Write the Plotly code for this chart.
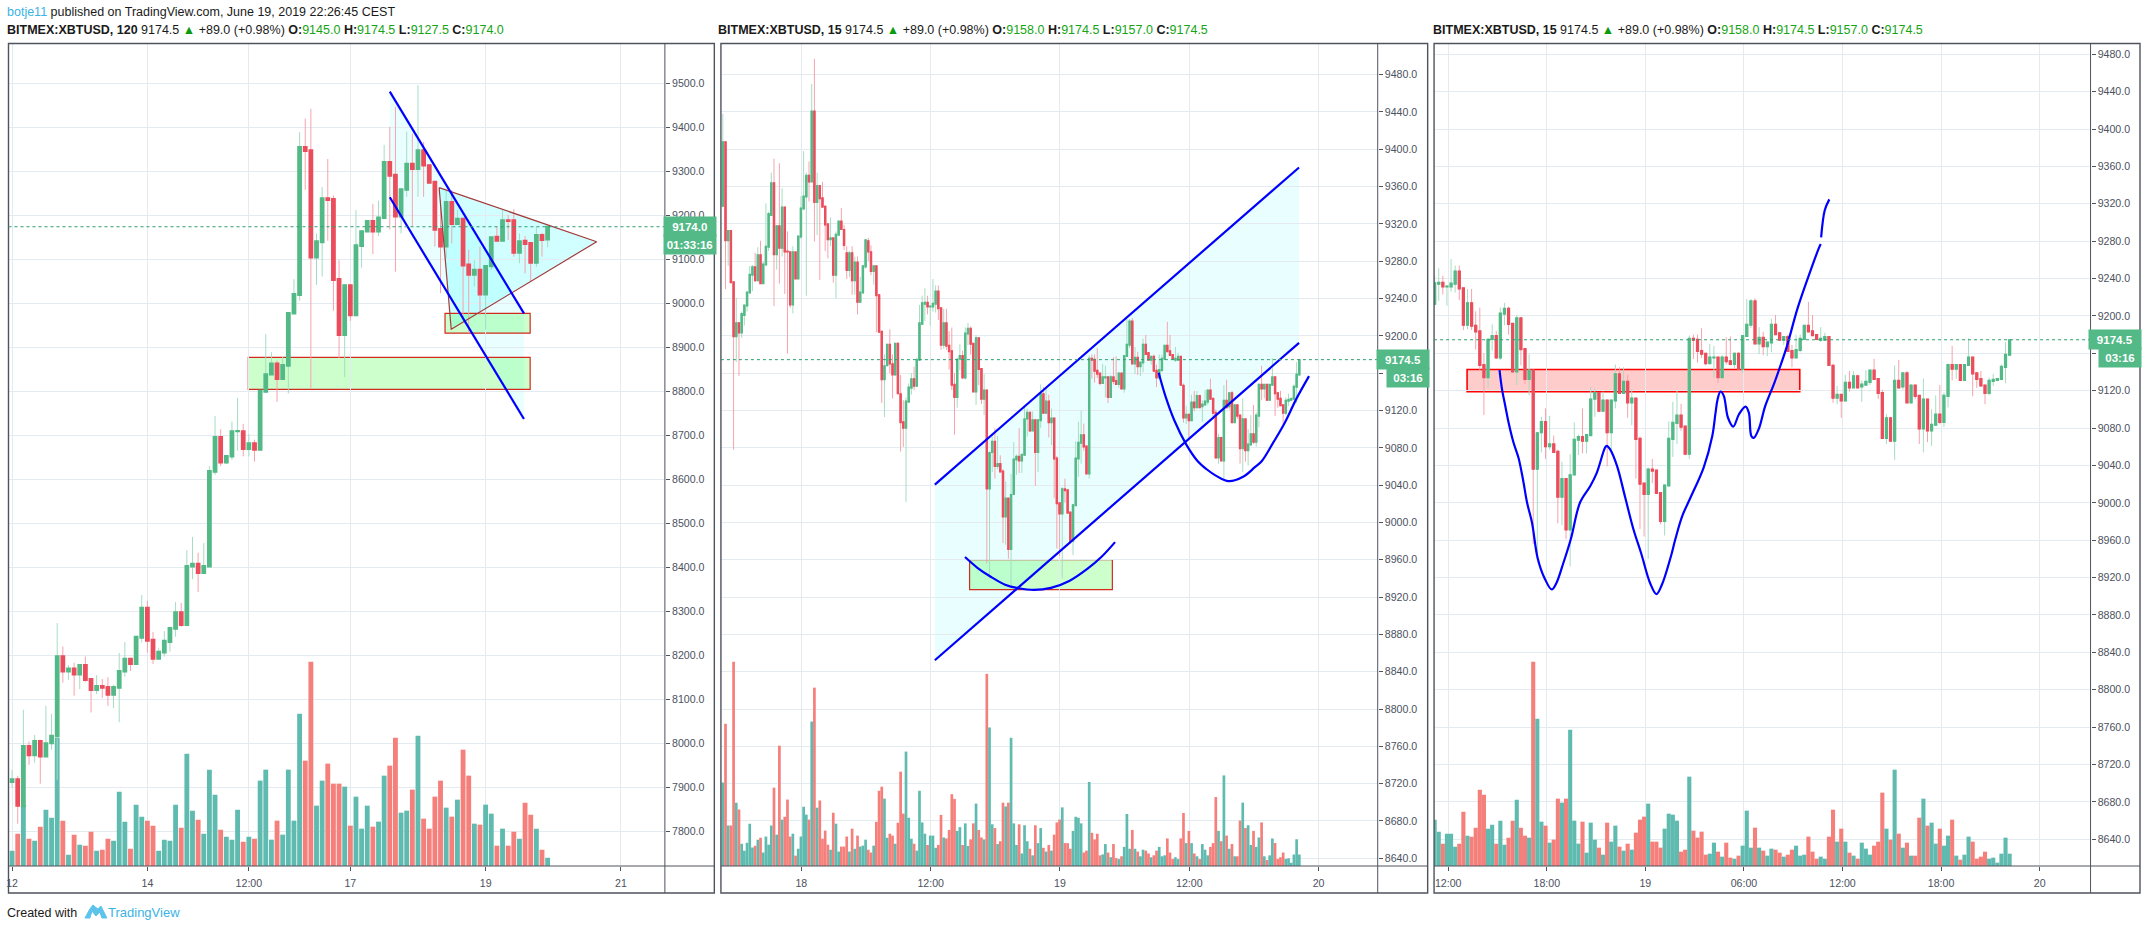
import plotly.graph_objects as go

# 2 hour candles, BITMEX:XBTUSD
open_120 = [7912,7918,7856,7994,7973,8005,7970,8000,8016,8198,
            8163,8170,8156,8178,8146,8121,8130,8128,8110,8126,
            8163,8192,8180,8240,8308,8235,8192,8206,8230,8260,
            8298,8269,8402,8408,8387,8402,8617,8696,8638,8652,
            8709,8709,8669,8682,8667,8799,8838,8863,8828,8858,
            8977,9019,9355,9348,9104,9139,9239,9237,9055,8928,
            9041,8973,9130,9163,9187,9163,9194,9321,9292,9197,
            9258,9317,9305,9348,9314,9276,9169,9129,9230,9180,
            9192,9088,9065,9076,9020,9084,9151,9142,9189,9189,
            9115,9142,9137,9092,9155,9145]
high_120 = [7939,7926,8076,8004,8019,8008,8085,8067,8273,8220,
            8178,8183,8180,8197,8146,8155,8146,8150,8133,8205,
            8230,8192,8242,8337,8324,8253,8217,8255,8265,8321,
            8319,8439,8469,8433,8455,8630,8744,8714,8653,8731,
            8785,8726,8703,8690,8801,8930,8889,8870,8878,8978,
            9055,9389,9420,9442,9159,9264,9328,9245,9098,9044,
            9044,9212,9164,9187,9226,9233,9360,9401,9447,9259,
            9390,9386,9496,9367,9314,9276,9235,9258,9258,9212,
            9192,9122,9098,9129,9085,9150,9174,9212,9201,9214,
            9159,9153,9137,9174,9160,9174.5]
low_120 = [7898,7817,7856,7951,7956,7908,7970,7985,7917,8138,
           8144,8108,8123,8140,8070,8112,8103,8085,8080,8048,
           8151,8164,8180,8229,8206,8180,8192,8197,8208,8242,
           8265,8269,8373,8344,8385,8402,8610,8630,8635,8644,
           8665,8652,8652,8640,8667,8799,8838,8776,8828,8795,
           8977,9006,9258,8805,9042,9061,9142,8983,8875,8832,
           8960,8973,9081,9163,9112,9153,9194,9168,9072,9159,
           9242,9174,9242,9242,9274,9129,9023,9102,9136,9180,
           8962,8932,9038,8973,8940,9076,9142,9142,9144,9106,
           9091,9068,9049,9083,9106,9127.5]
close_120 = [7918,7858,7994,7973,8005,7970,8000,8017,8198,8163,
             8170,8156,8178,8144,8121,8130,8126,8110,8128,8164,
             8192,8180,8242,8308,8233,8192,8208,8233,8262,8298,
             8269,8403,8408,8387,8403,8619,8696,8638,8653,8709,
             8710,8669,8682,8667,8801,8839,8863,8828,8860,8978,
             9021,9355,9346,9104,9141,9239,9235,9053,8928,9041,
             8973,9132,9164,9187,9163,9195,9321,9290,9197,9259,
             9317,9305,9348,9313,9274,9167,9129,9230,9180,9192,
             9086,9065,9076,9020,9085,9150,9142,9189,9187,9115,
             9141,9135,9092,9155,9144,9174]
volume_120 = [46,97,184,82,76,118,169,145,385,136,
              34,94,64,61,103,46,49,82,76,223,
              133,52,184,148,136,121,46,79,76,184,
              115,337,166,139,97,289,214,109,88,79,
              169,73,88,82,256,289,79,136,94,289,
              136,457,316,613,181,256,307,247,247,238,
              121,208,112,181,118,133,271,301,385,160,
              166,229,391,142,112,208,256,175,148,199,
              349,271,127,124,184,157,61,112,61,103,
              82,190,154,112,49,25]

# 15 min candles, bar 0 is June 18 12:00 so the list starts at bar -77
open_15 = [9339,9408,9302,9313,9258,9199,9214,9203,9222,9232,
           9246,9265,9274,9259,9287,9256,9276,9295,9329,9364,
           9287,9318,9294,9338,9291,9290,9233,9290,9261,9306,
           9336,9349,9372,9365,9441,9343,9361,9348,9339,9320,
           9303,9305,9265,9308,9323,9314,9289,9270,9289,9259,
           9279,9236,9246,9274,9302,9290,9269,9275,9244,9205,
           9153,9168,9191,9170,9158,9192,9138,9108,9101,9129,
           9144,9154,9146,9174,
           9212.5,9234,9236,9231,9231,9234,9248,9230,9190,9214,
           9190,9184,9148,9134,9175,9179,9155,9202,9208,9192,
           9140,9198,9165,9132,9142,9036,9075,9087,9060,9063,
           9055,9006,9026,8971,9030,9067,9071,9066,9072,9111,
           9118,9098,9110,9075,9109,9138,9117,9130,9107,9112,
           9069,9021,9009,9036,9035,9011,8980,9018,9068,9085,
           9094,9082,9052,9176,9175,9163,9160,9149,9155,9156,
           9134,9156,9152,9148,9160,9143,9178,9190,9216,9170,
           9177,9167,9171,9191,9182,9174,9178,9163,9155,9163,
           9175,9190,9184,9180,9174,9174,9178,9147,9112,9116,
           9109,9129,9123,9136,9124,9126,9129,9142,9133,9118,
           9069,9091,9066,9131,9124,9139,9107,9126,9115,9079,
           9111,9077,9083,9095,9086,9114,9148,9143,9148,9131,
           9147,9156,9139,9133,9126,9117,9130,9131,9132,9145,9158]
high_15 = [9438,9409,9313,9313,9258,9241,9214,9226,9233,9247,
           9275,9276,9289,9295,9302,9280,9342,9333,9375,9390,
           9319,9385,9358,9338,9312,9290,9296,9290,9307,9350,
           9398,9375,9387,9470,9497,9375,9361,9365,9340,9320,
           9327,9305,9312,9323,9337,9319,9296,9291,9296,9285,
           9285,9263,9276,9303,9305,9297,9276,9276,9245,9205,
           9180,9191,9207,9180,9192,9193,9158,9131,9134,9149,
           9160,9167,9175,9233,
           9243,9251,9243,9232,9261,9254,9254,9231,9229,9229,
           9205,9209,9160,9176.5,9191,9184,9209,9214,9210,9192,
           9201,9198,9165,9159,9142,9076,9092,9101,9093,9072,
           9057,9044,9026,9052,9086,9073,9101,9073,9124,9122,
           9118,9119,9110,9110,9148,9145,9145,9137,9122,9112,
           9071,9021,9038,9047,9035,9011,9020,9087,9108,9120,
           9106,9082,9179,9180,9180,9187,9160,9170,9168,9156,
           9158,9177,9178,9161,9161,9179,9218,9218,9219,9188,
           9183,9172,9197,9201,9182,9178,9180,9169,9180,9180,
           9190,9215,9201,9180,9188,9182,9178,9149,9125,9116,
           9137,9141,9141,9137,9131,9142,9142,9154,9133,9121,
           9095,9092,9147,9153,9139,9141,9126,9126,9115,9133,
           9111,9100,9115,9126,9118,9149,9168,9148,9148,9148,
           9176,9156,9140,9141,9126,9134,9138,9133,9148,9172,9174.5]
low_15 = [9339,9250,9275,9257,9078,9172,9157,9198,9211,9226,
          9246,9248,9258,9259,9256,9256,9276,9291,9329,9232,
          9271,9256,9285,9245,9181,9230,9224,9261,9261,9304,
          9335,9243,9344,9365,9301,9308,9260,9338,9291,9283,
          9296,9257,9240,9308,9314,9292,9261,9263,9244,9244,
          9223,9236,9246,9272,9280,9265,9255,9204,9204,9128,
          9113,9168,9160,9133,9158,9138,9076,9081,9022,9129,
          9137,9142,9146,9174,
          9212,9216,9223,9211,9226,9225,9217,9185,9186,9185,
          9164,9142,9094,9123,9163,9154,9153,9190,9180,9140,
          9126,9147,9127,9115,8956,8940,9054,9047,9057,9054,
          8978,8976,8961,8932,9030,9051,9053,9053,9072,9092,
          9097,9098,9039,9054,9101,9117,9117,9091,9083,9026,
          8972,8964,8940,9021,9010,8977,8965,9018,9049,9063,
          9077,9052,9047,9154,9150,9155,9147,9149,9134,9128,
          9134,9148,9148,9144,9143,9139,9178,9187,9170,9159,
          9158,9157,9161,9180,9174,9169,9162,9145,9155,9161,
          9175,9183,9179,9175,9172,9174,9147,9107,9105.5,9091,
          9109,9119,9123,9123,9108,9126,9126,9132,9111,9069,
          9063,9066,9046,9122,9121,9107,9107,9111,9063,9054,
          9065,9061,9083,9084,9081,9102,9131,9133,9131,9131,
          9147,9114,9123,9125,9105.5,9115,9125,9130,9132,9128,9157]
close_15 = [9408,9302,9313,9257,9199,9214,9203,9224,9233,9247,
            9266,9274,9259,9287,9256,9277,9296,9331,9364,9287,
            9318,9294,9338,9290,9290,9233,9290,9261,9307,9337,
            9350,9372,9365,9441,9343,9361,9347,9338,9319,9303,
            9305,9265,9309,9323,9314,9297,9270,9289,9259,9279,
            9236,9247,9275,9303,9290,9269,9275,9243,9204,9153,
            9168,9191,9170,9158,9192,9138,9107,9101,9130,9145,
            9154,9146,9175,9214,
            9235.5,9236,9231,9232,9235,9248,9229,9190,9214,9189,
            9183,9147,9134,9175,9179,9155,9203,9208,9191,9140,
            9198,9164,9132,9142,9036,9075,9087,9060,9063,9054,
            9006,9026,8971,9030,9068,9071,9066,9073,9111,9118,
            9098,9110,9075,9110,9138,9117,9130,9107,9112,9068,
            9020,9009,9036,9034,9010,8980,9019,9069,9086,9094,
            9081,9052,9176,9174,9162,9159,9149,9156,9156,9134,
            9156,9151,9148,9160,9143,9179,9191,9216,9170,9177,
            9167,9172,9191,9180,9174,9178,9162,9155,9164,9176,
            9190,9183,9179,9175,9176,9178,9147,9112,9116,9109,
            9129,9123,9136,9123,9127,9130,9142,9132,9117,9069,
            9091,9066,9131,9123,9139,9107,9126,9114,9079,9111,
            9077,9084,9095,9086,9115,9148,9143,9148,9131,9148,
            9156,9138,9132,9125,9117,9131,9132,9133,9146,9159,9174.5]
volume_15 = [266,454,129,129,652,202,180,71,49,74,
             135,59,65,84,90,43,94,68,129,250,
             100,384,148,157,212,94,103,33,55,94,
             189,164,148,461,569,186,209,87,113,68,
             52,170,135,46,62,62,94,46,119,55,
             97,62,65,84,52,43,65,141,240,253,
             215,90,103,97,71,138,301,167,365,154,
             87,71,49,240,
             139,103,67,97,97,58,67,163,91,88,
             115,229,214,112,124,67,136,64,85,136,
             199,115,91,85,613,442,133,121,70,79,
             202,190,202,409,136,67,133,40,130,79,
             55,34,130,73,121,58,46,67,49,100,
             139,148,187,73,73,55,112,157,154,136,
             43,49,268,106,85,103,34,37,70,43,
             28,70,25,22,31,61,166,55,115,55,
             46,31,52,49,40,28,34,49,61,31,
             34,88,43,22,28,22,88,169,73,112,
             73,40,31,22,70,52,34,61,73,220,
             112,79,289,97,55,70,31,31,145,202,
             121,130,67,112,61,91,139,31,19,34,
             88,73,22,28,43,22,25,10,37,85,37]
bars_15 = list(range(-77, 138))

ticks_1 = [0, 24, 42, 60, 84, 108]
ticklabels_1 = ['12', '14', '12:00', '17', '19', '21']
ticks_2 = [-48, 0, 48, 96, 144]
ticklabels_2 = ['18', '12:00', '19', '12:00', '20']
ticks_3 = [0, 24, 48, 72, 96, 120, 144]
ticklabels_3 = ['12:00', '18:00', '19', '06:00', '12:00', '18:00', '20']

# drawings on the first chart
wedge_top_x = [67, 90.8]
wedge_top_y = [9481, 8977]
wedge_bottom_x = [67, 90.8]
wedge_bottom_y = [9241, 8737]
triangle_x = [75.75, 103.7, 77.9, 75.75]
triangle_y = [9263, 9140, 8941, 9263]
box_small_x = [76.8, 91.9]
box_small_y = [8932, 8977]
box_big_x = [41.9, 91.9]
box_big_y = [8804.5, 8877]

# drawings on the second chart
channel_top_x = [1.7, 136.9]
channel_top_y = [9040.6, 9380.5]
channel_bottom_x = [1.7, 136.9]
channel_bottom_y = [8852.3, 9192.5]
box_mid_x = [14.6, 67.6]
box_mid_y = [8928, 8960]
bowl_low_x = [12.9, 17.5, 22.6, 27.8, 32.9, 38.5, 44.8, 51.6, 58.4, 63.5, 68.6]
bowl_low_y = [8962.9, 8951.4, 8941.5, 8933.3, 8929.4, 8927.6, 8929.8, 8937.2, 8950.4, 8962.9, 8978.9]
bowl_high_x = [84.8, 87.3, 90.7, 95, 99.2, 102.6, 106, 110.8, 116.3, 120.5, 123.1, 127.3, 131.6, 135.8, 140.6]
bowl_high_y = [9160.4, 9135.4, 9108.7, 9083.7, 9065.9, 9057, 9050.2, 9044.2, 9049.2, 9059.2, 9065.9, 9085.5, 9106.9, 9131.9, 9156.8]

# drawings on the third chart, the hand drawn line has a small break near the top
hand_x = [12.8, 13.4, 14.2, 15, 16.2, 17.4, 18.5, 19.5, 20.7, 22.1, 23.8, 25.5, 26.6, 28.3, 30.2,
          32.4, 34.9, 36.5, 38.5, 38.9, 39.7, 41.4, 43.4, 45.4, 47.3, 49.5, 51, 52.3, 54.5, 55.6,
          57.3, 59.3, 62.5, 64.6, 65.4, 65.9, 66.6, 67.4, 68.4, 69.7, 71.1, 72.7, 73.5, 74.1, 74.7,
          75.9, 77.5, 79.6, 80.9, 82.8, 85.3, 88, 90.5, 91, None, 91.1, 92, 93.1]
hand_y = [9141.9, 9121.6, 9103.7, 9085.9, 9064.5, 9048.5, 9025.3, 9000.3, 8978.9, 8940.5, 8919, 8907.3, 8913.7, 8935.1, 8961.9,
          9000.3, 9018, 9032.4, 9059.2, 9061, 9057.4, 9039.5, 9005.7, 8971.8, 8945.8, 8913.7, 8902.3, 8912, 8942.3, 8961,
          8986, 9005.7, 9037.8, 9071.6, 9096.6, 9110.9, 9119.1, 9114.5, 9091.3, 9081.6, 9094.8, 9103, 9096.6, 9071.6, 9069.5,
          9078.8, 9103.7, 9127, 9143, 9168, 9207.2, 9242, 9272, 9277, None, 9284, 9313.3, 9324.7]
box_pink_x = [4.9, 85.9]
box_pink_y = [9119, 9142.6]

UP = '#53B987'
DOWN = '#EB4D5C'
UP_WICK = '#A6DDC2'
DOWN_WICK = '#F6A3AC'
UP_VOL = '#5FBBAF'
DOWN_VOL = '#F57F7B'
GRID = '#E3EBF1'
FRAME = '#50535E'
BLUE_LINE = '#0000FF'
WIDTH = 2147
HEIGHT = 930
TOP = 43.5
AXIS_Y = 866
BOTTOM = 893


def px_x(v):
    return v / WIDTH


def px_y(v):
    return 1 - v / HEIGHT


def xname(n):
    return 'x' if n == 1 else 'x%d' % n


def vol_name(n):
    return 'y' if n == 1 else 'y%d' % (2 * n - 1)


def price_name(n):
    return 'y%d' % (2 * n)


fig = go.Figure()
shapes = []


def add_polygon(n, xs, ys, fill, line=None, width=1):
    # candles are always painted under scatter traces, so fills go in as shapes below them
    path = 'M ' + ' L '.join('%s %s' % (a, b) for a, b in zip(xs, ys)) + ' Z'
    shapes.append(dict(type='path', xref=xname(n), yref=price_name(n), path=path, fillcolor=fill,
                       line=dict(color=line or 'rgba(0,0,0,0)', width=width if line else 0), layer='below'))


def add_box(n, xs, ys, fill, line, width=1):
    add_polygon(n, [xs[0], xs[1], xs[1], xs[0]], [ys[0], ys[0], ys[1], ys[1]], fill, line, width)


def add_line(n, xs, ys, smooth=False, color=BLUE_LINE, width=2.2):
    fig.add_trace(go.Scatter(x=xs, y=ys, mode='lines',
                             line=dict(color=color, width=width, shape='spline' if smooth else 'linear'),
                             xaxis=xname(n), yaxis=price_name(n),
                             hoverinfo='skip', showlegend=False))


def add_volume(n, xs, opens, closes, vols, width):
    colors = [UP_VOL if c >= o else DOWN_VOL for o, c in zip(opens, closes)]
    fig.add_trace(go.Bar(x=xs, y=vols, width=width, marker=dict(color=colors, line_width=0),
                         xaxis=xname(n), yaxis=vol_name(n), hoverinfo='skip', showlegend=False))


def add_candles(n, xs, opens, highs, lows, closes, body_line):
    # lighter wicks first, then the bodies without wicks on top of them
    fig.add_trace(go.Candlestick(x=xs, open=opens, high=highs, low=lows, close=closes,
                                 increasing=dict(line=dict(color=UP_WICK, width=1), fillcolor=UP_WICK),
                                 decreasing=dict(line=dict(color=DOWN_WICK, width=1), fillcolor=DOWN_WICK),
                                 xaxis=xname(n), yaxis=price_name(n), hoverinfo='skip', showlegend=False))
    tops = [max(o, c) for o, c in zip(opens, closes)]
    bottoms = [min(o, c) for o, c in zip(opens, closes)]
    fig.add_trace(go.Candlestick(x=xs, open=opens, high=tops, low=bottoms, close=closes,
                                 increasing=dict(line=dict(color=UP, width=body_line), fillcolor=UP),
                                 decreasing=dict(line=dict(color=DOWN, width=body_line), fillcolor=DOWN),
                                 xaxis=xname(n), yaxis=price_name(n), hoverinfo='skip', showlegend=False))


# first chart
bars_120 = list(range(len(close_120)))
add_volume(1, bars_120, open_120, close_120, volume_120, 0.86)
add_polygon(1, wedge_top_x + wedge_bottom_x[::-1], wedge_top_y + wedge_bottom_y[::-1], '#E9FFFF')
add_polygon(1, triangle_x, triangle_y, 'rgba(0,255,255,0.18)')
add_box(1, box_big_x, box_big_y, 'rgba(0,255,0,0.2)', '#D42A1E', 1.2)
add_box(1, box_small_x, box_small_y, 'rgba(0,255,0,0.2)', '#D42A1E', 1.2)
add_candles(1, bars_120, open_120, high_120, low_120, close_120, 2)
add_line(1, triangle_x, triangle_y, color='#A33A3A', width=1.2)
add_line(1, wedge_top_x, wedge_top_y)
add_line(1, wedge_bottom_x, wedge_bottom_y)

# second chart
add_volume(2, bars_15, open_15, close_15, volume_15, 1.0)
add_polygon(2, channel_top_x + channel_bottom_x[::-1], channel_top_y + channel_bottom_y[::-1], '#E9FFFF')
add_box(2, box_mid_x, box_mid_y, 'rgba(0,255,0,0.2)', '#D42A1E', 1.2)
add_candles(2, bars_15, open_15, high_15, low_15, close_15, 1.1)
add_line(2, channel_top_x, channel_top_y)
add_line(2, channel_bottom_x, channel_bottom_y)
add_line(2, bowl_low_x, bowl_low_y, smooth=True)
add_line(2, bowl_high_x, bowl_high_y, smooth=True)

# third chart, same 15 min data from bar -3
add_volume(3, bars_15[74:], open_15[74:], close_15[74:], volume_15[74:], 1.0)
add_box(3, box_pink_x, box_pink_y, 'rgba(255,0,0,0.2)', '#FF0000', 1.6)
add_candles(3, bars_15[74:], open_15[74:], high_15[74:], low_15[74:], close_15[74:], 1.2)
add_line(3, hand_x, hand_y, smooth=True)

# the countdown tag sits on top of the 9160.0 label on the 15 min charts
hidden_labels = {'9160.0': ' '}

panels = [
    dict(n=1, left=6.5, axis=663.5, right=713, x_range=[-0.64, 115.8], price_range=[7721, 9590.5],
         vol_range=[0, 2467], dtick=100, ticks=ticks_1, labels=ticklabels_1, shift=0, alias={}),
    dict(n=2, left=719.6, axis=1377, right=1427, x_range=[-77.7, 166.1], price_range=[8631.7, 9513.4],
         vol_range=[0, 2624], dtick=40, ticks=ticks_2, labels=ticklabels_2, shift=0.15, alias=hidden_labels),
    dict(n=3, left=1433.4, axis=2090.5, right=2140, x_range=[-3.14, 156.7], price_range=[8611.4, 9491.5],
         vol_range=[0, 2467], dtick=40, ticks=ticks_3, labels=ticklabels_3, shift=0.3, alias=hidden_labels),
]

layout = dict(width=WIDTH, height=HEIGHT, margin=dict(l=0, r=0, t=0, b=0, pad=0),
              paper_bgcolor='white', plot_bgcolor='white', barmode='overlay',
              font=dict(family='Liberation Sans', color='#4C525E', size=11))
for p in panels:
    suffix = '' if p['n'] == 1 else str(p['n'])
    vol_suffix = '' if p['n'] == 1 else str(2 * p['n'] - 1)
    layout['xaxis' + suffix] = dict(
        domain=[px_x(p['left']), px_x(p['axis'])], range=p['x_range'], anchor=vol_name(p['n']),
        tickmode='array', tickvals=[t + p['shift'] for t in p['ticks']], ticktext=p['labels'],
        showgrid=True, gridcolor=GRID, gridwidth=1, zeroline=False, showline=False,
        ticks='outside', ticklen=4, tickcolor=FRAME, tickfont=dict(size=10.6, color='#4C525E'),
        rangeslider=dict(visible=False), ticklabelstandoff=3)
    layout['yaxis' + vol_suffix] = dict(
        domain=[px_y(AXIS_Y), px_y(TOP)], range=p['vol_range'], visible=False,
        anchor=xname(p['n']), fixedrange=True)
    layout['yaxis%d' % (2 * p['n'])] = dict(
        range=p['price_range'], overlaying=vol_name(p['n']), side='right', anchor=xname(p['n']),
        tick0=0, dtick=p['dtick'], tickformat='.1f', showgrid=True, gridcolor=GRID, gridwidth=1,
        zeroline=False, showline=False, ticks='outside', ticklen=4, tickcolor=FRAME,
        tickfont=dict(size=10.6, color='#4C525E'), labelalias=p['alias'])
    # frame, price scale edge and time scale edge
    shapes.append(dict(type='rect', xref='paper', yref='paper', x0=px_x(p['left']), x1=px_x(p['right']),
                       y0=px_y(BOTTOM), y1=px_y(TOP), line=dict(color=FRAME, width=1.4), layer='above'))
    shapes.append(dict(type='line', xref='paper', yref='paper', x0=px_x(p['axis']), x1=px_x(p['axis']),
                       y0=px_y(BOTTOM), y1=px_y(TOP), line=dict(color=FRAME, width=1), layer='above'))
    shapes.append(dict(type='line', xref='paper', yref='paper', x0=px_x(p['left']), x1=px_x(p['right']),
                       y0=px_y(AXIS_Y), y1=px_y(AXIS_Y), line=dict(color=FRAME, width=1), layer='above'))

last_close = [close_120[-1], close_15[-1], close_15[-1]]
for p, level in zip(panels, last_close):
    shapes.append(dict(type='line', xref='paper', yref=price_name(p['n']),
                       x0=px_x(p['left']), x1=px_x(p['axis']), y0=level, y1=level,
                       line=dict(color='#2E9E6E', width=1, dash='dot'), layer='above'))

# logo next to the TradingView link at the bottom
logo = [(83, 918), (88, 909), (91, 905), (96, 909), (99, 906), (105, 918), (100, 918), (98, 912), (94, 916),
        (90, 911), (88, 918)]
logo_path = 'M ' + ' L '.join('%.5f %.5f' % (px_x(a), px_y(b)) for a, b in logo) + ' Z'
shapes.append(dict(type='path', xref='paper', yref='paper', path=logo_path,
                   fillcolor='#5CC3EB', line=dict(color='#5CC3EB', width=1)))
layout['shapes'] = shapes

GREEN_TEXT = '#14A514'
BLACK_TEXT = '#1A1A1A'


def header(symbol, change_values):
    o, h, l, c = change_values
    return ('<b>BITMEX:XBTUSD, %s</b> 9174.5 <span style="color:#0A9A0A">▲</span> +89.0 (+0.98%%) '
            '<b>O:</b><span style="color:{g}">{o}</span> <b>H:</b><span style="color:{g}">{h}</span> '
            '<b>L:</b><span style="color:{g}">{l}</span> <b>C:</b><span style="color:{g}">{c}</span>'
            % symbol).format(g=GREEN_TEXT, o=o, h=h, l=l, c=c)


def text_at(x, y, text, size=12.5, color=BLACK_TEXT):
    return dict(xref='paper', yref='paper', x=px_x(x), y=px_y(y), text=text, showarrow=False,
                xanchor='left', yanchor='middle', align='left', font=dict(size=size, color=color))


def tag_at(p, level, text, shift, x0, x1):
    return dict(xref='paper', yref=price_name(p['n']), x=px_x((x0 + x1) / 2), y=level, text='<b>%s</b>' % text,
                showarrow=False, xanchor='center', yanchor='middle', yshift=shift, width=x1 - x0, height=17,
                bgcolor=UP, font=dict(size=11.5, color='white'))


layout['annotations'] = [
    text_at(3, 12.5, '<span style="color:#3BB3E4">botje11</span> published on TradingView.com, June 19, 2019 22:26:45 CEST'),
    text_at(3, 30, header('120', ('9145.0', '9174.5', '9127.5', '9174.0'))),
    text_at(715, 30, header('15', ('9158.0', '9174.5', '9157.0', '9174.5'))),
    text_at(1430, 30, header('15', ('9158.0', '9174.5', '9157.0', '9174.5'))),
    text_at(3, 912.5, 'Created with'),
    text_at(104, 912.5, 'TradingView', size=13, color='#3BB3E4'),
    tag_at(panels[0], close_120[-1], '9174.0', 0, 663.5, 713),
    tag_at(panels[0], close_120[-1], '01:33:16', -18, 663.5, 713),
    tag_at(panels[1], close_15[-1], '9174.5', 0, 1377, 1427),
    tag_at(panels[1], close_15[-1], '03:16', -18, 1387, 1427),
    tag_at(panels[2], close_15[-1], '9174.5', 0, 2090.5, 2140),
    tag_at(panels[2], close_15[-1], '03:16', -18, 2100, 2140),
]

fig.update_layout(**layout)
fig.write_html("out.html", config={'displayModeBar': False}, post_script="document.body.style.margin='0';")
